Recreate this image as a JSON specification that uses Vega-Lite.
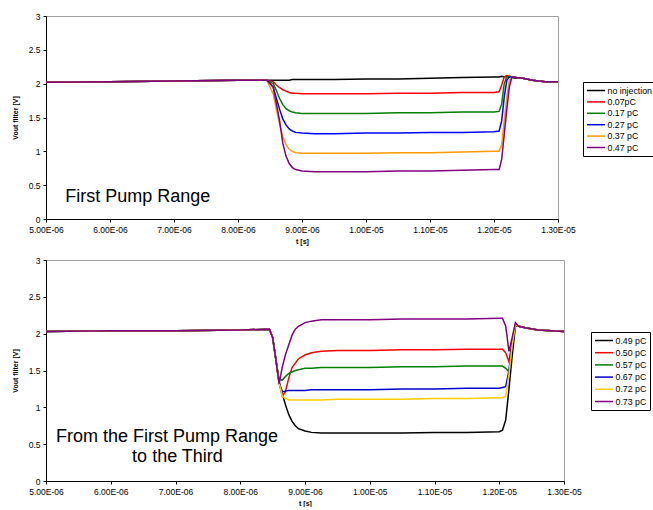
{
"$schema": "https://vega.github.io/schema/vega-lite/v6.json",
"padding": {"left": 10, "top": 11, "right": 0, "bottom": 0},
"background": "white",
"spacing": 10,
"config": {
  "view": {"stroke": "#a0a0a0", "strokeWidth": 1},
  "font": "Liberation Sans",
  "axis": {"grid": false, "domainColor": "#000", "tickColor": "#000", "tickSize": 3, "labelPadding": 3, "labelFontSize": 8.5, "labelColor": "#000", "labelFont": "Liberation Sans", "titleFont": "Liberation Sans", "titleFontSize": 7, "titleFontWeight": "bold", "titleColor": "#000", "labelOverlap": false, "labelFlush": false},
  "axisX": {"titlePadding": 4},
  "axisY": {"titlePadding": 10},
  "legend": {"symbolType": "M-1,0H3", "symbolSize": 81, "symbolStrokeWidth": 1.5, "labelFontSize": 8.8, "labelFont": "Liberation Sans", "labelColor": "#000", "strokeColor": "#000", "fillColor": "#fff", "padding": 3, "labelOffset": 10.5}
},
"resolve": {"scale": {"color": "independent", "x": "independent", "y": "independent"}, "legend": {"color": "independent"}},
"vconcat": [
{
  "width": 512, "height": 203,
  "encoding": {
    "x": {"field": "t", "type": "quantitative", "scale": {"domain": [5e-6, 1.3e-5], "nice": false, "zero": false},
          "axis": {"values": [5e-6, 6e-6, 7e-6, 8e-6, 9e-6, 1e-5, 1.1e-5, 1.2e-5, 1.3e-5], "labelExpr": "replace(upper(format(datum.value, '.2e')), 'E-', 'E-0')", "title": "t [s]", "labelOverlap": false, "labelFlush": false}},
    "y": {"field": "v", "type": "quantitative", "scale": {"domain": [0, 3], "nice": false},
          "axis": {"values": [0, 0.5, 1, 1.5, 2, 2.5, 3], "format": "~g", "labelOverlap": false, "labelFlush": false, "title": "Vout filter [V]"}}
  },
  "layer": [
  {
    "data": {"values": [
{"s":"no injection","t":5.0e-6,"v":2.02},{"s":"no injection","t":6.0e-6,"v":2.03},{"s":"no injection","t":7.0e-6,"v":2.04},{"s":"no injection","t":8.0e-6,"v":2.05},{"s":"no injection","t":8.45e-6,"v":2.05},{"s":"no injection","t":8.55e-6,"v":2.05},{"s":"no injection","t":8.6e-6,"v":2.05},{"s":"no injection","t":8.65e-6,"v":2.05},{"s":"no injection","t":8.7e-6,"v":2.05},{"s":"no injection","t":8.75e-6,"v":2.05},{"s":"no injection","t":8.8e-6,"v":2.05},{"s":"no injection","t":8.85e-6,"v":2.06},{"s":"no injection","t":8.9e-6,"v":2.06},{"s":"no injection","t":9.0e-6,"v":2.06},{"s":"no injection","t":9.2e-6,"v":2.06},{"s":"no injection","t":9.5e-6,"v":2.06},{"s":"no injection","t":10.0e-6,"v":2.07},{"s":"no injection","t":10.5e-6,"v":2.07},{"s":"no injection","t":11.0e-6,"v":2.08},{"s":"no injection","t":11.5e-6,"v":2.09},{"s":"no injection","t":12.0e-6,"v":2.10},{"s":"no injection","t":12.08e-6,"v":2.10},{"s":"no injection","t":12.12e-6,"v":2.11},{"s":"no injection","t":12.16e-6,"v":2.10},{"s":"no injection","t":12.2e-6,"v":2.11},{"s":"no injection","t":12.24e-6,"v":2.10},{"s":"no injection","t":12.28e-6,"v":2.09},{"s":"no injection","t":12.35e-6,"v":2.08},{"s":"no injection","t":12.45e-6,"v":2.08},{"s":"no injection","t":12.6e-6,"v":2.05},{"s":"no injection","t":12.8e-6,"v":2.03},{"s":"no injection","t":13.0e-6,"v":2.03},
{"s":"0.07pC","t":5.0e-6,"v":2.02},{"s":"0.07pC","t":6.0e-6,"v":2.03},{"s":"0.07pC","t":7.0e-6,"v":2.04},{"s":"0.07pC","t":8.0e-6,"v":2.05},{"s":"0.07pC","t":8.45e-6,"v":2.05},{"s":"0.07pC","t":8.55e-6,"v":2.03},{"s":"0.07pC","t":8.6e-6,"v":1.98},{"s":"0.07pC","t":8.65e-6,"v":1.94},{"s":"0.07pC","t":8.7e-6,"v":1.91},{"s":"0.07pC","t":8.75e-6,"v":1.89},{"s":"0.07pC","t":8.8e-6,"v":1.87},{"s":"0.07pC","t":8.85e-6,"v":1.86},{"s":"0.07pC","t":8.9e-6,"v":1.86},{"s":"0.07pC","t":9.0e-6,"v":1.85},{"s":"0.07pC","t":9.2e-6,"v":1.85},{"s":"0.07pC","t":9.5e-6,"v":1.85},{"s":"0.07pC","t":10.0e-6,"v":1.85},{"s":"0.07pC","t":10.5e-6,"v":1.86},{"s":"0.07pC","t":11.0e-6,"v":1.86},{"s":"0.07pC","t":11.5e-6,"v":1.87},{"s":"0.07pC","t":12.0e-6,"v":1.87},{"s":"0.07pC","t":12.08e-6,"v":1.88},{"s":"0.07pC","t":12.12e-6,"v":1.98},{"s":"0.07pC","t":12.16e-6,"v":2.10},{"s":"0.07pC","t":12.2e-6,"v":2.12},{"s":"0.07pC","t":12.24e-6,"v":2.11},{"s":"0.07pC","t":12.28e-6,"v":2.10},{"s":"0.07pC","t":12.35e-6,"v":2.09},{"s":"0.07pC","t":12.45e-6,"v":2.08},{"s":"0.07pC","t":12.6e-6,"v":2.05},{"s":"0.07pC","t":12.8e-6,"v":2.03},{"s":"0.07pC","t":13.0e-6,"v":2.03},
{"s":"0.17 pC","t":5.0e-6,"v":2.02},{"s":"0.17 pC","t":6.0e-6,"v":2.03},{"s":"0.17 pC","t":7.0e-6,"v":2.04},{"s":"0.17 pC","t":8.0e-6,"v":2.05},{"s":"0.17 pC","t":8.45e-6,"v":2.05},{"s":"0.17 pC","t":8.55e-6,"v":2.00},{"s":"0.17 pC","t":8.6e-6,"v":1.90},{"s":"0.17 pC","t":8.65e-6,"v":1.78},{"s":"0.17 pC","t":8.7e-6,"v":1.69},{"s":"0.17 pC","t":8.75e-6,"v":1.63},{"s":"0.17 pC","t":8.8e-6,"v":1.60},{"s":"0.17 pC","t":8.85e-6,"v":1.58},{"s":"0.17 pC","t":8.9e-6,"v":1.57},{"s":"0.17 pC","t":9.0e-6,"v":1.56},{"s":"0.17 pC","t":9.2e-6,"v":1.56},{"s":"0.17 pC","t":9.5e-6,"v":1.56},{"s":"0.17 pC","t":10.0e-6,"v":1.56},{"s":"0.17 pC","t":10.5e-6,"v":1.57},{"s":"0.17 pC","t":11.0e-6,"v":1.57},{"s":"0.17 pC","t":11.5e-6,"v":1.58},{"s":"0.17 pC","t":12.0e-6,"v":1.58},{"s":"0.17 pC","t":12.08e-6,"v":1.59},{"s":"0.17 pC","t":12.12e-6,"v":1.70},{"s":"0.17 pC","t":12.16e-6,"v":2.00},{"s":"0.17 pC","t":12.2e-6,"v":2.10},{"s":"0.17 pC","t":12.24e-6,"v":2.11},{"s":"0.17 pC","t":12.28e-6,"v":2.10},{"s":"0.17 pC","t":12.35e-6,"v":2.09},{"s":"0.17 pC","t":12.45e-6,"v":2.08},{"s":"0.17 pC","t":12.6e-6,"v":2.05},{"s":"0.17 pC","t":12.8e-6,"v":2.03},{"s":"0.17 pC","t":13.0e-6,"v":2.03},
{"s":"0.27 pC","t":5.0e-6,"v":2.02},{"s":"0.27 pC","t":6.0e-6,"v":2.03},{"s":"0.27 pC","t":7.0e-6,"v":2.04},{"s":"0.27 pC","t":8.0e-6,"v":2.05},{"s":"0.27 pC","t":8.45e-6,"v":2.05},{"s":"0.27 pC","t":8.55e-6,"v":1.95},{"s":"0.27 pC","t":8.6e-6,"v":1.78},{"s":"0.27 pC","t":8.65e-6,"v":1.62},{"s":"0.27 pC","t":8.7e-6,"v":1.48},{"s":"0.27 pC","t":8.75e-6,"v":1.39},{"s":"0.27 pC","t":8.8e-6,"v":1.33},{"s":"0.27 pC","t":8.85e-6,"v":1.30},{"s":"0.27 pC","t":8.9e-6,"v":1.28},{"s":"0.27 pC","t":9.0e-6,"v":1.27},{"s":"0.27 pC","t":9.2e-6,"v":1.26},{"s":"0.27 pC","t":9.5e-6,"v":1.26},{"s":"0.27 pC","t":10.0e-6,"v":1.27},{"s":"0.27 pC","t":10.5e-6,"v":1.27},{"s":"0.27 pC","t":11.0e-6,"v":1.28},{"s":"0.27 pC","t":11.5e-6,"v":1.28},{"s":"0.27 pC","t":12.0e-6,"v":1.29},{"s":"0.27 pC","t":12.08e-6,"v":1.30},{"s":"0.27 pC","t":12.12e-6,"v":1.45},{"s":"0.27 pC","t":12.16e-6,"v":1.80},{"s":"0.27 pC","t":12.2e-6,"v":2.05},{"s":"0.27 pC","t":12.24e-6,"v":2.10},{"s":"0.27 pC","t":12.28e-6,"v":2.10},{"s":"0.27 pC","t":12.35e-6,"v":2.09},{"s":"0.27 pC","t":12.45e-6,"v":2.08},{"s":"0.27 pC","t":12.6e-6,"v":2.05},{"s":"0.27 pC","t":12.8e-6,"v":2.03},{"s":"0.27 pC","t":13.0e-6,"v":2.03},
{"s":"0.37 pC","t":5.0e-6,"v":2.02},{"s":"0.37 pC","t":6.0e-6,"v":2.03},{"s":"0.37 pC","t":7.0e-6,"v":2.04},{"s":"0.37 pC","t":8.0e-6,"v":2.05},{"s":"0.37 pC","t":8.45e-6,"v":2.05},{"s":"0.37 pC","t":8.55e-6,"v":1.85},{"s":"0.37 pC","t":8.6e-6,"v":1.62},{"s":"0.37 pC","t":8.65e-6,"v":1.40},{"s":"0.37 pC","t":8.7e-6,"v":1.22},{"s":"0.37 pC","t":8.75e-6,"v":1.10},{"s":"0.37 pC","t":8.8e-6,"v":1.03},{"s":"0.37 pC","t":8.85e-6,"v":1.00},{"s":"0.37 pC","t":8.9e-6,"v":0.98},{"s":"0.37 pC","t":9.0e-6,"v":0.97},{"s":"0.37 pC","t":9.2e-6,"v":0.97},{"s":"0.37 pC","t":9.5e-6,"v":0.97},{"s":"0.37 pC","t":10.0e-6,"v":0.97},{"s":"0.37 pC","t":10.5e-6,"v":0.98},{"s":"0.37 pC","t":11.0e-6,"v":0.98},{"s":"0.37 pC","t":11.5e-6,"v":0.99},{"s":"0.37 pC","t":12.0e-6,"v":1.00},{"s":"0.37 pC","t":12.08e-6,"v":1.00},{"s":"0.37 pC","t":12.12e-6,"v":1.10},{"s":"0.37 pC","t":12.16e-6,"v":1.45},{"s":"0.37 pC","t":12.2e-6,"v":1.80},{"s":"0.37 pC","t":12.24e-6,"v":2.05},{"s":"0.37 pC","t":12.28e-6,"v":2.10},{"s":"0.37 pC","t":12.35e-6,"v":2.09},{"s":"0.37 pC","t":12.45e-6,"v":2.08},{"s":"0.37 pC","t":12.6e-6,"v":2.05},{"s":"0.37 pC","t":12.8e-6,"v":2.03},{"s":"0.37 pC","t":13.0e-6,"v":2.03},
{"s":"0.47 pC","t":5.0e-6,"v":2.02},{"s":"0.47 pC","t":6.0e-6,"v":2.03},{"s":"0.47 pC","t":7.0e-6,"v":2.04},{"s":"0.47 pC","t":8.0e-6,"v":2.05},{"s":"0.47 pC","t":8.45e-6,"v":2.05},{"s":"0.47 pC","t":8.55e-6,"v":1.95},{"s":"0.47 pC","t":8.6e-6,"v":1.70},{"s":"0.47 pC","t":8.65e-6,"v":1.45},{"s":"0.47 pC","t":8.7e-6,"v":1.12},{"s":"0.47 pC","t":8.75e-6,"v":0.93},{"s":"0.47 pC","t":8.8e-6,"v":0.82},{"s":"0.47 pC","t":8.85e-6,"v":0.76},{"s":"0.47 pC","t":8.9e-6,"v":0.73},{"s":"0.47 pC","t":9.0e-6,"v":0.71},{"s":"0.47 pC","t":9.2e-6,"v":0.70},{"s":"0.47 pC","t":9.5e-6,"v":0.70},{"s":"0.47 pC","t":10.0e-6,"v":0.70},{"s":"0.47 pC","t":10.5e-6,"v":0.71},{"s":"0.47 pC","t":11.0e-6,"v":0.71},{"s":"0.47 pC","t":11.5e-6,"v":0.72},{"s":"0.47 pC","t":12.0e-6,"v":0.73},{"s":"0.47 pC","t":12.08e-6,"v":0.73},{"s":"0.47 pC","t":12.12e-6,"v":0.88},{"s":"0.47 pC","t":12.16e-6,"v":1.25},{"s":"0.47 pC","t":12.2e-6,"v":1.62},{"s":"0.47 pC","t":12.24e-6,"v":1.95},{"s":"0.47 pC","t":12.28e-6,"v":2.10},{"s":"0.47 pC","t":12.35e-6,"v":2.09},{"s":"0.47 pC","t":12.45e-6,"v":2.08},{"s":"0.47 pC","t":12.6e-6,"v":2.05},{"s":"0.47 pC","t":12.8e-6,"v":2.03},{"s":"0.47 pC","t":13.0e-6,"v":2.03}
    ]},
    "mark": {"type": "line", "strokeWidth": 1.5},
    "encoding": {
      "color": {"field": "s", "type": "nominal",
                "scale": {"domain": ["no injection", "0.07pC", "0.17 pC", "0.27 pC", "0.37 pC", "0.47 pC"], "range": ["#000000", "#ff0000", "#008000", "#0000ff", "#ff9900", "#800080"]},
                "legend": {"orient": "none", "legendX": 537, "legendY": 66, "title": null, "rowPadding": 0.4}}
    }
  },
  {
    "data": {"values": [{"t": 5.3e-6, "v": 0.325, "label": "First Pump Range"}]},
    "mark": {"type": "text", "align": "left", "baseline": "middle", "fontSize": 18, "font": "Liberation Sans", "color": "#000"},
    "encoding": {"text": {"field": "label"}}
  }
  ]
},
{
  "width": 518, "height": 221,
  "encoding": {
    "x": {"field": "t", "type": "quantitative", "scale": {"domain": [5e-6, 1.3e-5], "nice": false, "zero": false},
          "axis": {"values": [5e-6, 6e-6, 7e-6, 8e-6, 9e-6, 1e-5, 1.1e-5, 1.2e-5, 1.3e-5], "labelExpr": "replace(upper(format(datum.value, '.2e')), 'E-', 'E-0')", "title": "t [s]", "labelOverlap": false, "labelFlush": false}},
    "y": {"field": "v", "type": "quantitative", "scale": {"domain": [0, 3], "nice": false},
          "axis": {"values": [0, 0.5, 1, 1.5, 2, 2.5, 3], "format": "~g", "labelOverlap": false, "labelFlush": false, "title": "Vout filter [V]"}}
  },
  "layer": [
  {
    "data": {"values": [
{"s":"0.49 pC","t":5.0e-6,"v":2.03},{"s":"0.49 pC","t":6.0e-6,"v":2.04},{"s":"0.49 pC","t":7.0e-6,"v":2.04},{"s":"0.49 pC","t":8.0e-6,"v":2.05},{"s":"0.49 pC","t":8.45e-6,"v":2.06},{"s":"0.49 pC","t":8.5e-6,"v":1.95},{"s":"0.49 pC","t":8.55e-6,"v":1.65},{"s":"0.49 pC","t":8.6e-6,"v":1.35},{"s":"0.49 pC","t":8.65e-6,"v":1.18},{"s":"0.49 pC","t":8.7e-6,"v":1.03},{"s":"0.49 pC","t":8.75e-6,"v":0.90},{"s":"0.49 pC","t":8.8e-6,"v":0.81},{"s":"0.49 pC","t":8.85e-6,"v":0.75},{"s":"0.49 pC","t":8.9e-6,"v":0.71},{"s":"0.49 pC","t":9.0e-6,"v":0.68},{"s":"0.49 pC","t":9.1e-6,"v":0.66},{"s":"0.49 pC","t":9.25e-6,"v":0.65},{"s":"0.49 pC","t":9.5e-6,"v":0.65},{"s":"0.49 pC","t":10.0e-6,"v":0.65},{"s":"0.49 pC","t":10.5e-6,"v":0.65},{"s":"0.49 pC","t":11.0e-6,"v":0.66},{"s":"0.49 pC","t":11.5e-6,"v":0.66},{"s":"0.49 pC","t":12.0e-6,"v":0.67},{"s":"0.49 pC","t":12.05e-6,"v":0.69},{"s":"0.49 pC","t":12.1e-6,"v":0.83},{"s":"0.49 pC","t":12.15e-6,"v":1.25},{"s":"0.49 pC","t":12.2e-6,"v":1.70},{"s":"0.49 pC","t":12.25e-6,"v":2.10},{"s":"0.49 pC","t":12.3e-6,"v":2.10},{"s":"0.49 pC","t":12.4e-6,"v":2.08},{"s":"0.49 pC","t":12.6e-6,"v":2.05},{"s":"0.49 pC","t":12.8e-6,"v":2.04},{"s":"0.49 pC","t":13.0e-6,"v":2.03},
{"s":"0.50 pC","t":5.0e-6,"v":2.03},{"s":"0.50 pC","t":6.0e-6,"v":2.04},{"s":"0.50 pC","t":7.0e-6,"v":2.04},{"s":"0.50 pC","t":8.0e-6,"v":2.05},{"s":"0.50 pC","t":8.45e-6,"v":2.06},{"s":"0.50 pC","t":8.5e-6,"v":1.95},{"s":"0.50 pC","t":8.55e-6,"v":1.65},{"s":"0.50 pC","t":8.6e-6,"v":1.33},{"s":"0.50 pC","t":8.65e-6,"v":1.15},{"s":"0.50 pC","t":8.7e-6,"v":1.22},{"s":"0.50 pC","t":8.75e-6,"v":1.40},{"s":"0.50 pC","t":8.8e-6,"v":1.54},{"s":"0.50 pC","t":8.85e-6,"v":1.60},{"s":"0.50 pC","t":8.9e-6,"v":1.66},{"s":"0.50 pC","t":9.0e-6,"v":1.71},{"s":"0.50 pC","t":9.1e-6,"v":1.74},{"s":"0.50 pC","t":9.25e-6,"v":1.76},{"s":"0.50 pC","t":9.5e-6,"v":1.77},{"s":"0.50 pC","t":10.0e-6,"v":1.77},{"s":"0.50 pC","t":10.5e-6,"v":1.78},{"s":"0.50 pC","t":11.0e-6,"v":1.78},{"s":"0.50 pC","t":11.5e-6,"v":1.79},{"s":"0.50 pC","t":12.0e-6,"v":1.79},{"s":"0.50 pC","t":12.05e-6,"v":1.79},{"s":"0.50 pC","t":12.1e-6,"v":1.74},{"s":"0.50 pC","t":12.15e-6,"v":1.62},{"s":"0.50 pC","t":12.2e-6,"v":1.90},{"s":"0.50 pC","t":12.25e-6,"v":2.12},{"s":"0.50 pC","t":12.3e-6,"v":2.10},{"s":"0.50 pC","t":12.4e-6,"v":2.08},{"s":"0.50 pC","t":12.6e-6,"v":2.05},{"s":"0.50 pC","t":12.8e-6,"v":2.04},{"s":"0.50 pC","t":13.0e-6,"v":2.03},
{"s":"0.57 pC","t":5.0e-6,"v":2.03},{"s":"0.57 pC","t":6.0e-6,"v":2.04},{"s":"0.57 pC","t":7.0e-6,"v":2.04},{"s":"0.57 pC","t":8.0e-6,"v":2.05},{"s":"0.57 pC","t":8.45e-6,"v":2.06},{"s":"0.57 pC","t":8.5e-6,"v":1.95},{"s":"0.57 pC","t":8.55e-6,"v":1.65},{"s":"0.57 pC","t":8.6e-6,"v":1.38},{"s":"0.57 pC","t":8.65e-6,"v":1.37},{"s":"0.57 pC","t":8.7e-6,"v":1.42},{"s":"0.57 pC","t":8.75e-6,"v":1.46},{"s":"0.57 pC","t":8.8e-6,"v":1.48},{"s":"0.57 pC","t":8.85e-6,"v":1.50},{"s":"0.57 pC","t":8.9e-6,"v":1.51},{"s":"0.57 pC","t":9.0e-6,"v":1.53},{"s":"0.57 pC","t":9.1e-6,"v":1.53},{"s":"0.57 pC","t":9.25e-6,"v":1.54},{"s":"0.57 pC","t":9.5e-6,"v":1.54},{"s":"0.57 pC","t":10.0e-6,"v":1.54},{"s":"0.57 pC","t":10.5e-6,"v":1.55},{"s":"0.57 pC","t":11.0e-6,"v":1.55},{"s":"0.57 pC","t":11.5e-6,"v":1.56},{"s":"0.57 pC","t":12.0e-6,"v":1.56},{"s":"0.57 pC","t":12.05e-6,"v":1.56},{"s":"0.57 pC","t":12.1e-6,"v":1.53},{"s":"0.57 pC","t":12.15e-6,"v":1.48},{"s":"0.57 pC","t":12.2e-6,"v":1.85},{"s":"0.57 pC","t":12.25e-6,"v":2.10},{"s":"0.57 pC","t":12.3e-6,"v":2.10},{"s":"0.57 pC","t":12.4e-6,"v":2.08},{"s":"0.57 pC","t":12.6e-6,"v":2.05},{"s":"0.57 pC","t":12.8e-6,"v":2.04},{"s":"0.57 pC","t":13.0e-6,"v":2.03},
{"s":"0.67 pC","t":5.0e-6,"v":2.03},{"s":"0.67 pC","t":6.0e-6,"v":2.04},{"s":"0.67 pC","t":7.0e-6,"v":2.04},{"s":"0.67 pC","t":8.0e-6,"v":2.05},{"s":"0.67 pC","t":8.45e-6,"v":2.06},{"s":"0.67 pC","t":8.5e-6,"v":1.95},{"s":"0.67 pC","t":8.55e-6,"v":1.65},{"s":"0.67 pC","t":8.6e-6,"v":1.33},{"s":"0.67 pC","t":8.65e-6,"v":1.21},{"s":"0.67 pC","t":8.7e-6,"v":1.22},{"s":"0.67 pC","t":8.75e-6,"v":1.23},{"s":"0.67 pC","t":8.8e-6,"v":1.23},{"s":"0.67 pC","t":8.85e-6,"v":1.23},{"s":"0.67 pC","t":8.9e-6,"v":1.23},{"s":"0.67 pC","t":9.0e-6,"v":1.23},{"s":"0.67 pC","t":9.1e-6,"v":1.24},{"s":"0.67 pC","t":9.25e-6,"v":1.24},{"s":"0.67 pC","t":9.5e-6,"v":1.24},{"s":"0.67 pC","t":10.0e-6,"v":1.24},{"s":"0.67 pC","t":10.5e-6,"v":1.25},{"s":"0.67 pC","t":11.0e-6,"v":1.25},{"s":"0.67 pC","t":11.5e-6,"v":1.26},{"s":"0.67 pC","t":12.0e-6,"v":1.26},{"s":"0.67 pC","t":12.05e-6,"v":1.27},{"s":"0.67 pC","t":12.1e-6,"v":1.28},{"s":"0.67 pC","t":12.15e-6,"v":1.50},{"s":"0.67 pC","t":12.2e-6,"v":1.90},{"s":"0.67 pC","t":12.25e-6,"v":2.12},{"s":"0.67 pC","t":12.3e-6,"v":2.10},{"s":"0.67 pC","t":12.4e-6,"v":2.08},{"s":"0.67 pC","t":12.6e-6,"v":2.05},{"s":"0.67 pC","t":12.8e-6,"v":2.04},{"s":"0.67 pC","t":13.0e-6,"v":2.03},
{"s":"0.72 pC","t":5.0e-6,"v":2.03},{"s":"0.72 pC","t":6.0e-6,"v":2.04},{"s":"0.72 pC","t":7.0e-6,"v":2.04},{"s":"0.72 pC","t":8.0e-6,"v":2.05},{"s":"0.72 pC","t":8.45e-6,"v":2.06},{"s":"0.72 pC","t":8.5e-6,"v":1.95},{"s":"0.72 pC","t":8.55e-6,"v":1.65},{"s":"0.72 pC","t":8.6e-6,"v":1.33},{"s":"0.72 pC","t":8.65e-6,"v":1.15},{"s":"0.72 pC","t":8.7e-6,"v":1.12},{"s":"0.72 pC","t":8.75e-6,"v":1.10},{"s":"0.72 pC","t":8.8e-6,"v":1.10},{"s":"0.72 pC","t":8.85e-6,"v":1.10},{"s":"0.72 pC","t":8.9e-6,"v":1.10},{"s":"0.72 pC","t":9.0e-6,"v":1.10},{"s":"0.72 pC","t":9.1e-6,"v":1.10},{"s":"0.72 pC","t":9.25e-6,"v":1.10},{"s":"0.72 pC","t":9.5e-6,"v":1.11},{"s":"0.72 pC","t":10.0e-6,"v":1.11},{"s":"0.72 pC","t":10.5e-6,"v":1.11},{"s":"0.72 pC","t":11.0e-6,"v":1.12},{"s":"0.72 pC","t":11.5e-6,"v":1.12},{"s":"0.72 pC","t":12.0e-6,"v":1.13},{"s":"0.72 pC","t":12.05e-6,"v":1.13},{"s":"0.72 pC","t":12.1e-6,"v":1.15},{"s":"0.72 pC","t":12.15e-6,"v":1.45},{"s":"0.72 pC","t":12.2e-6,"v":1.85},{"s":"0.72 pC","t":12.25e-6,"v":2.12},{"s":"0.72 pC","t":12.3e-6,"v":2.10},{"s":"0.72 pC","t":12.4e-6,"v":2.08},{"s":"0.72 pC","t":12.6e-6,"v":2.05},{"s":"0.72 pC","t":12.8e-6,"v":2.04},{"s":"0.72 pC","t":13.0e-6,"v":2.03},
{"s":"0.73 pC","t":5.0e-6,"v":2.03},{"s":"0.73 pC","t":6.0e-6,"v":2.04},{"s":"0.73 pC","t":7.0e-6,"v":2.04},{"s":"0.73 pC","t":8.0e-6,"v":2.05},{"s":"0.73 pC","t":8.45e-6,"v":2.06},{"s":"0.73 pC","t":8.5e-6,"v":1.95},{"s":"0.73 pC","t":8.55e-6,"v":1.65},{"s":"0.73 pC","t":8.6e-6,"v":1.32},{"s":"0.73 pC","t":8.65e-6,"v":1.55},{"s":"0.73 pC","t":8.7e-6,"v":1.72},{"s":"0.73 pC","t":8.75e-6,"v":1.85},{"s":"0.73 pC","t":8.8e-6,"v":1.98},{"s":"0.73 pC","t":8.85e-6,"v":2.06},{"s":"0.73 pC","t":8.9e-6,"v":2.10},{"s":"0.73 pC","t":9.0e-6,"v":2.15},{"s":"0.73 pC","t":9.1e-6,"v":2.17},{"s":"0.73 pC","t":9.25e-6,"v":2.19},{"s":"0.73 pC","t":9.5e-6,"v":2.19},{"s":"0.73 pC","t":10.0e-6,"v":2.19},{"s":"0.73 pC","t":10.5e-6,"v":2.20},{"s":"0.73 pC","t":11.0e-6,"v":2.20},{"s":"0.73 pC","t":11.5e-6,"v":2.20},{"s":"0.73 pC","t":12.0e-6,"v":2.21},{"s":"0.73 pC","t":12.05e-6,"v":2.21},{"s":"0.73 pC","t":12.1e-6,"v":2.10},{"s":"0.73 pC","t":12.15e-6,"v":1.76},{"s":"0.73 pC","t":12.2e-6,"v":1.95},{"s":"0.73 pC","t":12.25e-6,"v":2.15},{"s":"0.73 pC","t":12.3e-6,"v":2.10},{"s":"0.73 pC","t":12.4e-6,"v":2.08},{"s":"0.73 pC","t":12.6e-6,"v":2.05},{"s":"0.73 pC","t":12.8e-6,"v":2.04},{"s":"0.73 pC","t":13.0e-6,"v":2.03}
    ]},
    "mark": {"type": "line", "strokeWidth": 1.5},
    "encoding": {
      "color": {"field": "s", "type": "nominal",
                "scale": {"domain": ["0.49 pC", "0.50 pC", "0.57 pC", "0.67 pC", "0.72 pC", "0.73 pC"], "range": ["#000000", "#ff0000", "#008000", "#0000cc", "#ffcc00", "#800080"]},
                "legend": {"orient": "none", "legendX": 545, "legendY": 72, "title": null, "rowPadding": 1.2}}
    }
  },
  {
    "data": {"values": [{"t": 5.155e-6, "v": 0.6, "label": "From the First Pump Range"}, {"t": 6.33e-6, "v": 0.33, "label": "to the Third"}]},
    "mark": {"type": "text", "align": "left", "baseline": "middle", "fontSize": 18, "font": "Liberation Sans", "color": "#000"},
    "encoding": {"text": {"field": "label"}}
  }
  ]
}
]
}
